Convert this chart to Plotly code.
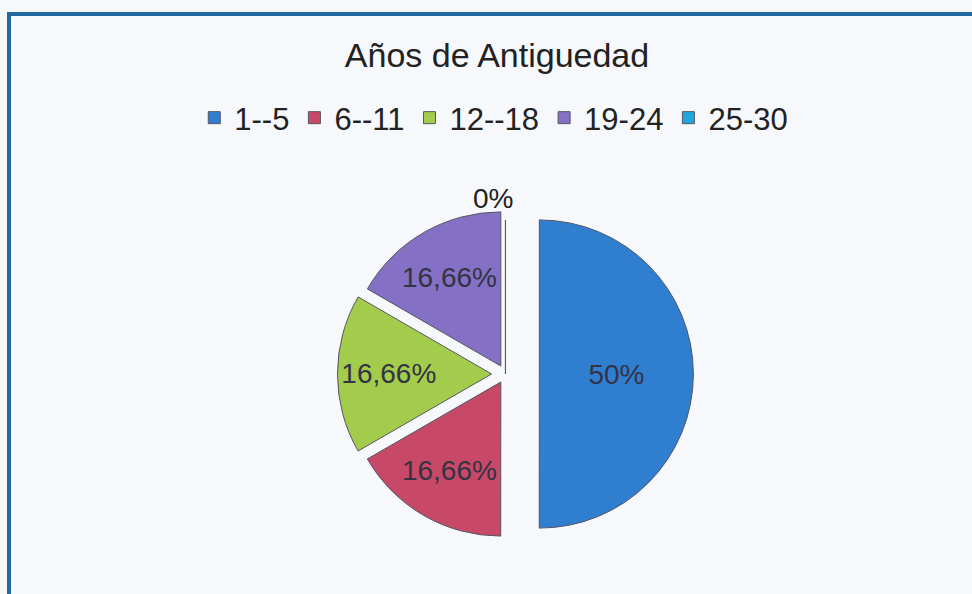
import plotly.graph_objects as go

categories = ["1--5", "6--11", "12--18", "19-24", "25-30"]
values = [50, 16.66, 16.66, 16.66, 0]
colors = ["#2f7ecf", "#c84868", "#a4cc4c", "#8470c4", "#20a8dc"]
pulls = [0.22, 0.06, 0.09, 0.06, 0]
title_text = "Años de Antiguedad"

labels_text = [(f"{v:g}%").replace(".", ",") for v in values]

W, H = 972, 594
FONT = "Liberation Sans, Arial, sans-serif"

fig = go.Figure(go.Pie(
    labels=categories,
    values=values,
    text=labels_text,
    texttemplate="%{text}",
    textinfo="text",
    textposition="inside",
    insidetextorientation="horizontal",
    textfont=dict(family=FONT, size=28, color="#333344"),
    marker=dict(colors=colors, line=dict(color="#555566", width=1)),
    pull=pulls,
    sort=False,
    direction="clockwise",
    rotation=0,
    domain=dict(x=[0.2, 0.84], y=[(H - 562) / H, (H - 186) / H]),
    hoverinfo="label+text",
    showlegend=True,
))

# "0%" label for the empty slice
fig.add_annotation(
    x=493 / W, y=1 - 181 / H, xref="paper", yref="paper",
    text=labels_text[4], showarrow=False,
    font=dict(family=FONT, size=28, color="#222222"),
)

# chart border
fig.add_shape(
    type="rect", xref="paper", yref="paper",
    x0=9 / W, x1=1.02, y0=-0.02, y1=1 - 14 / H,
    line=dict(color="#2468a2", width=4), fillcolor="rgba(0,0,0,0)",
)

fig.update_layout(
    width=W, height=H,
    margin=dict(l=0, r=0, t=0, b=0),
    paper_bgcolor="#f6f8fb",
    plot_bgcolor="#f6f8fb",
    title=dict(
        text=title_text, x=497 / W, xanchor="center", y=1 - 55 / H, yanchor="middle",
        font=dict(family=FONT, size=34, color="#222222"),
    ),
    legend=dict(
        orientation="h", x=0.508, xanchor="center", y=1 - 118 / H, yanchor="middle",
        font=dict(family=FONT, size=31, color="#222222"),
        bgcolor="rgba(0,0,0,0)", itemwidth=30, traceorder="normal",
    ),
)

fig.write_html(
    "out.html",
    config={"displayModeBar": False},
    post_script="document.body.style.margin='0';document.body.style.background='#f6f8fb';",
)
